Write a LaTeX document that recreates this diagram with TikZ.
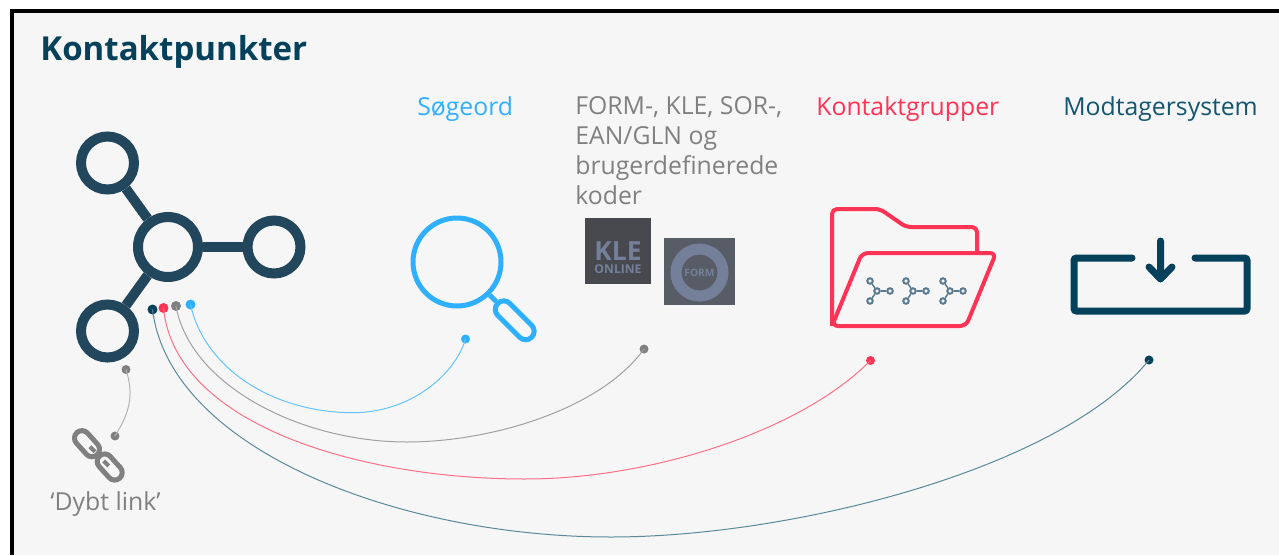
\documentclass[tikz,border=0pt]{standalone}
\usepackage{fontspec}
\setmainfont{Open Sans}
\usetikzlibrary{positioning}
\definecolor{bluekp}{HTML}{2FB0FF}
\definecolor{graykp}{HTML}{808080}
\definecolor{redkp}{HTML}{FF3355}
\definecolor{darkkp}{HTML}{05415B}
\definecolor{tealkp}{HTML}{14566F}
\definecolor{hubkp}{HTML}{22475C}
\definecolor{tinykp}{HTML}{5B7A90}
\definecolor{backkp}{HTML}{F6F6F6}
\definecolor{klekp}{HTML}{48494F}
\definecolor{formkp}{HTML}{585C67}
\definecolor{logokp}{HTML}{74809A}
\begin{document}
\begin{tikzpicture}[x=0.02cm,y=-0.02cm,
  hub node/.style={circle,draw=hubkp,line width=0.2cm,inner sep=0pt,minimum size=1.06cm},
  big hub/.style={hub node,minimum size=1.2cm},
  hub link/.style={draw=hubkp,line width=0.2cm},
  tiny node/.style={circle,draw=tinykp,line width=0.04cm,inner sep=0pt,minimum size=0.11cm},
  dot/.style={circle,fill=#1,inner sep=0pt,minimum size=0.2cm},
  head/.style={anchor=west,font=\fontsize{14.1pt}{17.1pt}\selectfont,text=#1,inner sep=0pt},
  link bow/.style={draw=#1,line width=0.02cm},
  link ring/.style={draw=graykp,line width=0.1cm,rounded corners=0.15cm,inner sep=0pt,
    minimum width=0.6cm,minimum height=0.3cm,rotate=-48}]

  \useasboundingbox (0,0) rectangle (1279,555);
  \fill[white] (0,0) rectangle (1279,555);
  \fill[backkp] (12,11) rectangle (1279,555);
  \draw[black,line width=0.08cm] (12,555) -- (12,11) -- (1279,11);

  \node[anchor=west,inner sep=0pt,text=darkkp,font=\fontsize{18.8pt}{22pt}\selectfont\bfseries] (title) at (40,52) {Kontaktpunkter};

  \node[head=bluekp] (soegeord) at (417,109) {Søgeord};
  \node[head=graykp,align=left,anchor=north west] (koder) at (575,96.5) {FORM-, KLE, SOR-,\\EAN/GLN og\\brugerdefinerede\\koder};
  \node[head=redkp] (grupper) at (816,109) {Kontaktgrupper};
  \node[head=tealkp] (modtager) at (1063,109) {Modtagersystem};

  \node[hub node] (tl) at (107.5,163) {};
  \node[big hub] (hub) at (168,247) {};
  \node[hub node] (r) at (274,247) {};
  \node[hub node] (bl) at (107.5,331) {};
  \foreach \s/\t in {hub/tl, hub/r, hub/bl} {
   \path[hub link] (\s) -- (\t);}

  \node[circle,draw=bluekp,line width=0.1cm,inner sep=0pt,minimum size=1.76cm] (lens) at (457,262) {};
  \node[draw=bluekp,line width=0.1cm,rounded corners=0.17cm,inner sep=0pt,minimum width=0.96cm,minimum height=0.34cm,rotate=-45] (grip) at (514.7,320.3) {};
  \path[draw=bluekp,line width=0.1cm] (lens) -- (grip);

  \node[fill=klekp,inner sep=0pt,minimum size=1.32cm] (kle) at (618,251) {};
  \node[text=logokp,inner sep=0pt,font=\fontsize{15pt}{15pt}\selectfont\bfseries] (kletxt) at (618,251.5) {KLE};
  \node[text=logokp,inner sep=0pt,font=\fontsize{6.9pt}{7pt}\selectfont\bfseries] (klesub) at (618,269.5) {ONLINE};
  \node[fill=formkp,inner sep=0pt,minimum width=1.42cm,minimum height=1.34cm] (form) at (699.5,271.5) {};
  \node[circle,draw=logokp,line width=0.22cm,inner sep=0pt,minimum size=0.94cm,text=logokp,font=\fontsize{5.8pt}{6pt}\selectfont\bfseries] (formtxt) at (699.5,272.5) {FORM};

  \draw[redkp,line width=0.08cm,line join=round,rounded corners=0.1cm] (977,253) -- (977,227) -- (906,227) -- (880,209) -- (832,209) -- (832,326);
  \draw[redkp,line width=0.08cm,line join=round,rounded corners=0.12cm] (832,326) -- (862,253) -- (996,253) -- (966,326) -- cycle;
  \foreach \n/\x in {a/877, b/913, c/950} {
   \node[tiny node] (mid\n) at (\x,291) {};
   \node[tiny node] (up\n) at (\x-7,281) {};
   \node[tiny node] (side\n) at (\x+13,291) {};
   \node[tiny node] (low\n) at (\x-7,301) {};
   \foreach \t in {up, side, low} {
    \path[draw=tinykp,line width=0.03cm] (mid\n) -- (\t\n);}
  }

  \draw[darkkp,line width=0.14cm,line cap=round,rounded corners=0.05cm] (1132,258) -- (1074,258) -- (1074,311) -- (1247,311) -- (1247,258) -- (1195,258);
  \coordinate (tail) at (1160.5,241);
  \coordinate (tip) at (1160.5,279);
  \draw[darkkp,line width=0.14cm,line cap=round,line join=round] (tail) -- (tip) (1149,267) -- (tip) -- (1172,267);

  \node[link ring] (ring1) at (87,443.7) {};
  \node[link ring] (ring2) at (109.7,467) {};
  \draw[graykp,line width=0.08cm] (ring1.center) ++(3,3) -- +(5,5);
  \draw[graykp,line width=0.08cm] (ring2.center) ++(-1,-1) -- +(-5,-5);
  \node[text=graykp,inner sep=0pt,font=\fontsize{14.1pt}{17pt}\selectfont] (dybt) at (105.5,504) {‘Dybt link’};

  \node[dot=bluekp] (b1) at (190.5,304.5) {};
  \node[dot=bluekp,minimum size=0.18cm] (b2) at (465.5,339) {};
  \node[dot=graykp] (g1) at (176,306) {};
  \node[dot=graykp,minimum size=0.18cm] (g2) at (644,349) {};
  \node[dot=redkp] (r1) at (163.5,308) {};
  \node[dot=redkp,minimum size=0.18cm] (r2) at (870.5,360.5) {};
  \node[dot=darkkp] (d1) at (152.5,309.5) {};
  \node[dot=darkkp,minimum size=0.18cm] (d2) at (1149,360) {};
  \node[dot=graykp,minimum size=0.18cm] (l1) at (126,369.5) {};
  \node[dot=graykp,minimum size=0.18cm] (l2) at (115,436) {};

  \coordinate (blow) at (353,412.7);
  \coordinate (glow) at (407,442);
  \coordinate (rlow) at (525,479);
  \coordinate (dlow) at (611,537);
  \path[link bow=bluekp!75] (b1.center) .. controls (205,370) and (275,412.7) .. (blow) .. controls (410,412.7) and (455,375) .. (b2.center);
  \path[link bow=graykp!75] (g1.center) .. controls (190,385) and (300,442) .. (glow) .. controls (490,442) and (600,410) .. (g2.center);
  \path[link bow=redkp!70] (r1.center) .. controls (175,425) and (360,479) .. (rlow) .. controls (650,479) and (800,432) .. (r2.center);
  \path[link bow=tealkp!70] (d1.center) .. controls (170,450) and (400,537) .. (dlow) .. controls (790,537) and (1060,470) .. (d2.center);
  \path[link bow=graykp!60] (l1.center) .. controls (134,395) and (130,412) .. (l2.center);
\end{tikzpicture}
\end{document}
